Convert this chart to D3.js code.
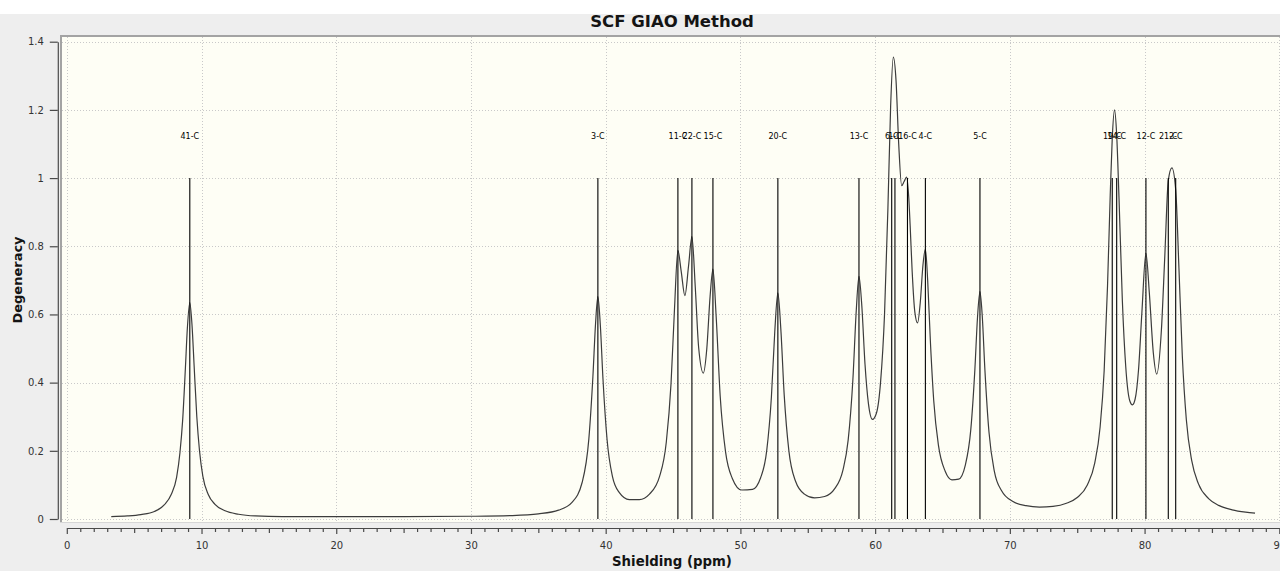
<!DOCTYPE html>
<html>
<head>
<meta charset="utf-8">
<script src="https://cdn.jsdelivr.net/npm/d3@7"></script>
<style>
  html, body { margin: 0; padding: 0; background: #ffffff; overflow: hidden; }
  svg { display: block; }
</style>
</head>
<body>
<svg id="chart" width="1280" height="571"></svg>
<script>
// Calculated 13C shieldings (ppm) and their degeneracy
const stickPpm = [9.13, 39.42, 45.36, 46.40, 47.96, 52.78, 58.80, 61.23, 61.47, 62.40, 63.73, 67.78, 77.60, 77.93, 80.10, 81.76, 82.31];
const stickDegeneracy = [1, 1, 1, 1, 1, 1, 1, 1, 1, 1, 1, 1, 1, 1, 1, 1, 1];
const stickLabels = ["41-C", "3-C", "11-C", "22-C", "15-C", "20-C", "13-C", "6-C", "1-C", "16-C", "4-C", "5-C", "19-C", "14-C", "12-C", "21-C", "2-C"];

// Broadened spectrum, sampled along the shielding axis
const spectrumPpm = [
  3.3, 4.5, 5.5, 6.5, 7.25, 7.75, 8.15, 8.4, 8.6, 8.8, 8.95, 9.13, 9.3, 9.45, 9.65, 9.85, 10.1, 10.5, 11.0, 11.75, 12.75,
  14.0, 16.0, 20.0, 25.0, 30.0, 33.0, 35.0, 36.5, 37.5, 38.25, 38.75, 39.05, 39.25, 39.42, 39.6, 39.8, 40.1, 40.5, 41.0,
  41.75, 42.5, 43.25, 44.0, 44.5, 44.85, 45.1, 45.36, 45.6, 45.88, 46.15, 46.4, 46.65, 46.9, 47.25, 47.5, 47.75, 47.96,
  48.2, 48.5, 48.9, 49.4, 50.1, 50.9, 51.5, 51.95, 52.3, 52.55, 52.78, 53.0, 53.25, 53.6, 54.1, 54.75, 55.5, 56.25, 57.0,
  57.6, 58.0, 58.35, 58.6, 58.8, 59.0, 59.25, 59.5, 59.8, 60.1, 60.4, 60.7, 60.95, 61.15, 61.35, 61.55, 61.75, 61.97,
  62.15, 62.34, 62.5, 62.6, 62.75, 62.95, 63.15, 63.35, 63.55, 63.73, 63.9, 64.1, 64.35, 64.7, 65.2, 65.7, 66.2, 66.7,
  67.1, 67.4, 67.6, 67.78, 67.95, 68.15, 68.45, 68.85, 69.4, 70.2, 71.2, 72.2, 73.2, 74.2, 75.0, 75.75, 76.3, 76.7, 77.0,
  77.25, 77.45, 77.6, 77.77, 77.93, 78.1, 78.35, 78.6, 78.9, 79.1, 79.3, 79.55, 79.8, 80.1, 80.35, 80.65, 80.9, 81.25,
  81.5, 81.76, 82.03, 82.31, 82.55, 82.8, 83.1, 83.5, 84.0, 84.75, 85.5, 86.5, 87.5, 88.2
];
const spectrumDegeneracy = [
  0.007, 0.009, 0.013, 0.022, 0.042, 0.072, 0.122, 0.195, 0.29, 0.44, 0.56, 0.635, 0.565, 0.45, 0.30, 0.20, 0.125, 0.072, 0.043, 0.024, 0.014,
  0.009, 0.007, 0.007, 0.007, 0.008, 0.010, 0.015, 0.026, 0.049, 0.107, 0.235, 0.417, 0.575, 0.652, 0.57, 0.41, 0.234, 0.125, 0.078,
  0.057, 0.057, 0.073, 0.125, 0.226, 0.397, 0.61, 0.788, 0.728, 0.655, 0.742, 0.828, 0.68, 0.503, 0.428, 0.497, 0.653, 0.733,
  0.594, 0.36, 0.196, 0.119, 0.085, 0.087, 0.121, 0.20, 0.358, 0.549, 0.663, 0.557, 0.364, 0.199, 0.11, 0.073, 0.062, 0.066, 0.089,
  0.142, 0.232, 0.41, 0.612, 0.712, 0.632, 0.453, 0.339, 0.292, 0.311, 0.40, 0.603, 0.913, 1.21, 1.355, 1.287, 1.10, 0.978,
  0.99, 1.003, 0.94, 0.86, 0.725, 0.606, 0.575, 0.635, 0.745, 0.792, 0.70, 0.522, 0.347, 0.216, 0.14, 0.115, 0.117, 0.159,
  0.262, 0.436, 0.592, 0.667, 0.596, 0.436, 0.255, 0.14, 0.082, 0.052, 0.039, 0.035, 0.037, 0.046, 0.063, 0.10, 0.164, 0.27, 0.435,
  0.684, 0.95, 1.116, 1.20, 1.126, 0.944, 0.641, 0.448, 0.347, 0.335, 0.352, 0.437, 0.605, 0.78, 0.665, 0.487, 0.425, 0.555,
  0.77, 0.993, 1.03, 0.966, 0.736, 0.479, 0.291, 0.171, 0.103, 0.06, 0.04, 0.027, 0.02, 0.017
];

// Axis ticks
const xTicks = [0, 10, 20, 30, 40, 50, 60, 70, 80, 90];
const xTickLabels = ["0", "10", "20", "30", "40", "50", "60", "70", "80", "90"];
const yTicks = [0, 0.2, 0.4, 0.6, 0.8, 1.0, 1.2, 1.4];
const yTickLabels = ["0", "0.2", "0.4", "0.6", "0.8", "1", "1.2", "1.4"];

const W = 1280, H = 571;
const FONT = "'DejaVu Sans', Verdana, sans-serif";
const svg = d3.select("#chart");

const x = d3.scaleLinear().domain([0, 90]).range([66.8, 1279.3]);
const y = d3.scaleLinear().domain([0, 1.4]).range([519, 41.7]);

// Window background
svg.append("rect").attr("x", 0).attr("y", 14).attr("width", W).attr("height", H - 14).attr("fill", "#eeeeee");

// Title (its top edge sits under the white strip of the window)
svg.append("text")
  .attr("x", 672).attr("y", 26.5)
  .attr("text-anchor", "middle")
  .attr("font-family", FONT).attr("font-weight", "bold").attr("font-size", 16.5)
  .attr("fill", "#141414")
  .text("SCF GIAO Method");
svg.append("rect").attr("x", 0).attr("y", 0).attr("width", W).attr("height", 14).attr("fill", "#ffffff");

// Plot canvas
const plotL = 60, plotT = 35, plotR = 1284, plotB = 523;
svg.append("rect")
  .attr("x", plotL).attr("y", plotT)
  .attr("width", plotR - plotL).attr("height", plotB - plotT)
  .attr("fill", "#fefef5");
// sunken frame: dark top/left, light bottom
svg.append("line").attr("x1", plotL).attr("x2", plotR).attr("y1", plotT + 1).attr("y2", plotT + 1)
  .attr("stroke", "#a3a3a3").attr("stroke-width", 2);
svg.append("line").attr("x1", plotL + 1).attr("x2", plotL + 1).attr("y1", plotT).attr("y2", plotB)
  .attr("stroke", "#a3a3a3").attr("stroke-width", 2);
svg.append("line").attr("x1", plotL).attr("x2", plotR).attr("y1", plotB - 0.5).attr("y2", plotB - 0.5)
  .attr("stroke", "#d6d6d6").attr("stroke-width", 1);

// Dotted grid
const grid = svg.append("g").attr("stroke", "#c9c9c9").attr("stroke-width", 1).attr("stroke-dasharray", "1,2");
grid.selectAll("line.v").data(xTicks).join("line").attr("class", "v")
  .attr("x1", d => Math.round(x(d)) + 0.5).attr("x2", d => Math.round(x(d)) + 0.5)
  .attr("y1", plotT + 2).attr("y2", plotB - 1);
grid.selectAll("line.h").data(yTicks).join("line").attr("class", "h")
  .attr("x1", plotL + 2).attr("x2", plotR)
  .attr("y1", d => Math.round(y(d)) + 0.5).attr("y2", d => Math.round(y(d)) + 0.5);

// Broadened spectrum
const spectrum = spectrumPpm.map((p, i) => [p, spectrumDegeneracy[i]]);
const line = d3.line().x(d => x(d[0])).y(d => y(d[1])).curve(d3.curveMonotoneX);
svg.append("path").datum(spectrum)
  .attr("d", line)
  .attr("fill", "none")
  .attr("stroke", "#3c3c3c")
  .attr("stroke-width", 1.2);

// Shielding sticks
const sticks = stickPpm.map((p, i) => ({ ppm: p, deg: stickDegeneracy[i], label: stickLabels[i] }));
svg.append("g").selectAll("line").data(sticks).join("line")
  .attr("x1", d => x(d.ppm)).attr("x2", d => x(d.ppm))
  .attr("y1", y(0)).attr("y2", d => y(d.deg))
  .attr("stroke", "#000").attr("stroke-width", 1.1);

// Atom labels above the sticks
svg.append("g").selectAll("text").data(sticks).join("text")
  .attr("x", d => x(d.ppm))
  .attr("y", d => y(d.deg + 0.115))
  .attr("text-anchor", "middle")
  .attr("font-family", FONT).attr("font-size", 8)
  .attr("fill", "#000")
  .text(d => d.label);

// X axis: major, medium and minor ticks
const xAxisY = 528;
const xMajor = d3.axisBottom(x).tickValues(xTicks)
  .tickFormat((d, i) => xTickLabels[i])
  .tickSize(6).tickSizeOuter(0).tickPadding(8);
const gx = svg.append("g").attr("transform", `translate(0,${xAxisY})`).call(xMajor);
gx.select(".domain").attr("stroke", "#4a4a4a").attr("stroke-width", 1.2);
gx.selectAll(".tick line").attr("stroke", "#4a4a4a").attr("stroke-width", 1.2);
gx.selectAll(".tick text").attr("font-family", FONT).attr("font-size", 10).attr("fill", "#333");

const xMedium = d3.axisBottom(x).tickValues(d3.range(5, 90, 10)).tickFormat("").tickSize(5).tickSizeOuter(0);
const gxm = svg.append("g").attr("transform", `translate(0,${xAxisY})`).call(xMedium);
gxm.select(".domain").remove();
gxm.selectAll(".tick line").attr("stroke", "#4a4a4a").attr("stroke-width", 1.2);

const xMinor = d3.axisBottom(x).tickValues(d3.range(0, 91, 1).filter(v => v % 5 !== 0))
  .tickFormat("").tickSize(4).tickSizeOuter(0);
const gxn = svg.append("g").attr("transform", `translate(0,${xAxisY})`).call(xMinor);
gxn.select(".domain").remove();
gxn.selectAll(".tick line").attr("stroke", "#4a4a4a").attr("stroke-width", 1.2);

// Y axis
const yAxis = d3.axisLeft(y).tickValues(yTicks)
  .tickFormat((d, i) => yTickLabels[i])
  .tickSize(8).tickSizeOuter(0).tickPadding(6);
const gy = svg.append("g").attr("transform", "translate(57.8,0)").call(yAxis);
gy.select(".domain").attr("stroke", "#4a4a4a").attr("stroke-width", 1.2);
gy.selectAll(".tick line").attr("stroke", "#4a4a4a").attr("stroke-width", 1.2);
gy.selectAll(".tick text").attr("font-family", FONT).attr("font-size", 10).attr("fill", "#333");

// Axis titles
svg.append("text")
  .attr("transform", "translate(22,280) rotate(-90)")
  .attr("text-anchor", "middle")
  .attr("font-family", FONT).attr("font-weight", "bold").attr("font-size", 13)
  .attr("fill", "#141414")
  .text("Degeneracy");
svg.append("text")
  .attr("x", 672).attr("y", 566)
  .attr("text-anchor", "middle")
  .attr("font-family", FONT).attr("font-weight", "bold").attr("font-size", 13.3)
  .attr("fill", "#141414")
  .text("Shielding (ppm)");
</script>
</body>
</html>
